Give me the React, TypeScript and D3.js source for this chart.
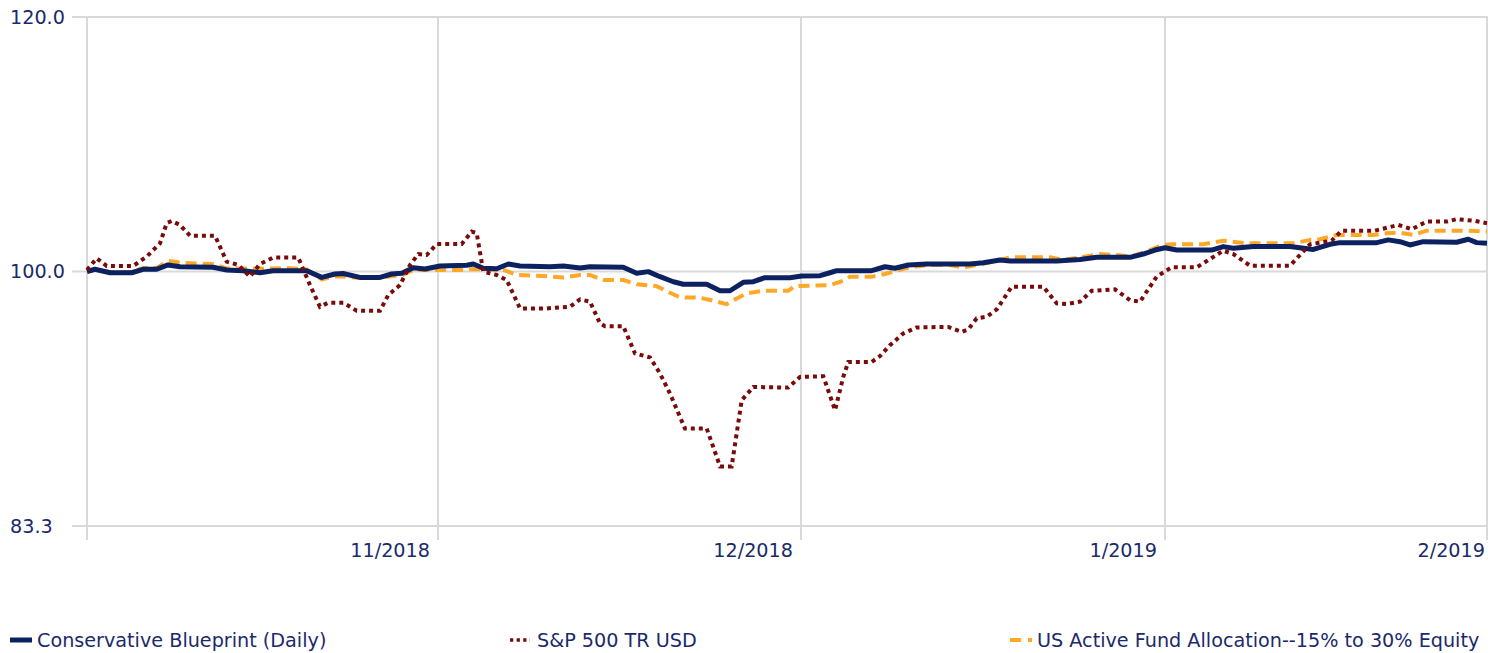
import React from 'react';
import * as d3 from 'd3';

// x values are days counted from 2 Oct 2018
const monthDays = [0, 30, 60, 91, 122];
const tickDays = [30, 60, 91, 122];
const tickLabels = ['11/2018', '12/2018', '1/2019', '2/2019'];
const yTicks = [100 / 1.2, 100, 120];

const seriesNames = [
  'Conservative Blueprint (Daily)',
  'S&P 500 TR USD',
  'US Active Fund Allocation--15% to 30% Equity',
];

const blueprint: [number, number][] = [
  [0, 99.99], [0.68, 100.16], [1.97, 99.91], [3.82, 99.91], [4.79, 100.16], [5.96, 100.16],
  [6.92, 100.47], [7.95, 100.34], [10.77, 100.3], [11.94, 100.11], [13.33, 100.06], [14.79, 99.91],
  [15.9, 100.06], [18.78, 100.06], [20.06, 99.58], [21.2, 99.82], [21.88, 99.86], [23.33, 99.58],
  [25.04, 99.58], [26.04, 99.82], [26.9, 99.87], [27.89, 100.27], [28.89, 100.18], [30.17, 100.4],
  [32.37, 100.45], [32.92, 100.54], [33.74, 100.23], [34.85, 100.2], [35.81, 100.54], [36.78, 100.4],
  [39.26, 100.34], [40.36, 100.4], [41.74, 100.25], [42.56, 100.34], [45.31, 100.3], [46.42, 99.87],
  [47.38, 99.99], [48.35, 99.63], [49.45, 99.27], [50.27, 99.09], [52.21, 99.09], [53.31, 98.63],
  [54.13, 98.63], [55.23, 99.23], [56.06, 99.27], [57.02, 99.56], [59.09, 99.56], [60.06, 99.68],
  [61.62, 99.7], [62.47, 99.91], [63.04, 100.06], [66.02, 100.06], [67.15, 100.34], [68.01, 100.23],
  [69.14, 100.47], [70.71, 100.54], [74.39, 100.54], [75.53, 100.63], [76.95, 100.83], [77.8, 100.76],
  [81.78, 100.76], [83.76, 100.86], [85.18, 101.02], [88.02, 101.02], [89.15, 101.26], [90.15, 101.55],
  [91.0, 101.72], [92.11, 101.55], [95.41, 101.55], [96.51, 101.8], [97.46, 101.68], [99.35, 101.8],
  [102.81, 101.8], [105.02, 101.59], [106.59, 101.97], [107.54, 102.09], [111.01, 102.09], [112.1, 102.29],
  [113.21, 102.16], [114.15, 101.92], [115.41, 102.16], [118.57, 102.12], [119.66, 102.34], [120.46, 102.09],
  [121.43, 102.04],
];

const sp500: [number, number][] = [
  [0, 100.11], [0.83, 100.95], [1.68, 100.4], [3.96, 100.4], [5.1, 101.07], [6.24, 102.04],
  [6.81, 103.52], [7.24, 103.69], [7.95, 103.39], [8.8, 102.6], [10.94, 102.6], [11.94, 100.71],
  [12.93, 100.47], [13.93, 99.63], [14.79, 100.54], [15.92, 101.0], [18.06, 101.0], [19.06, 99.03],
  [19.91, 97.51], [20.62, 97.79], [21.91, 97.79], [23.05, 97.23], [25.04, 97.23], [25.75, 98.33],
  [26.75, 99.03], [27.61, 100.47], [28.32, 101.26], [29.03, 101.19], [29.89, 101.99], [31.96, 101.99],
  [32.79, 102.9], [33.2, 102.78], [33.74, 99.99], [34.85, 99.75], [35.68, 99.39], [36.78, 97.39],
  [38.98, 97.39], [40.91, 97.51], [41.74, 98.02], [42.56, 97.86], [43.39, 96.35], [43.8, 96.16],
  [45.31, 96.16], [46.28, 94.3], [47.52, 94.03], [48.35, 92.95], [49.17, 91.63], [50.41, 89.36],
  [52.21, 89.36], [53.31, 86.97], [54.27, 86.97], [55.1, 91.19], [56.06, 92.06], [58.95, 92.02],
  [59.92, 92.73], [61.9, 92.77], [62.9, 90.54], [63.6, 92.73], [64.03, 93.73], [66.02, 93.73],
  [66.73, 94.12], [67.58, 94.86], [68.71, 95.66], [69.85, 96.07], [72.54, 96.11], [73.69, 95.77],
  [74.25, 95.94], [74.96, 96.7], [75.81, 96.81], [76.67, 97.32], [77.94, 98.91], [80.64, 98.91],
  [81.78, 97.74], [82.63, 97.69], [83.76, 97.86], [84.76, 98.63], [86.74, 98.73], [88.02, 97.97],
  [88.87, 97.86], [90.29, 99.63], [91.63, 100.3], [94.0, 100.3], [96.51, 101.5], [97.46, 101.26],
  [99.03, 100.42], [102.81, 100.42], [104.7, 101.97], [106.75, 102.23], [107.7, 102.97], [110.85, 102.97],
  [113.05, 103.39], [114.32, 103.08], [115.73, 103.64], [117.62, 103.64], [118.57, 103.82], [120.14, 103.71],
  [121.43, 103.52],
];

const activeFund: [number, number][] = [
  [0, 100.0], [0.68, 100.14], [1.97, 99.96], [3.82, 99.96], [4.79, 100.25], [5.96, 100.25],
  [6.92, 100.76], [8.21, 100.61], [10.77, 100.54], [11.94, 100.22], [15.38, 100.2], [17.09, 100.25],
  [18.78, 100.14], [20.06, 99.44], [21.2, 99.64], [21.88, 99.64], [23.33, 99.53], [25.04, 99.53],
  [26.04, 99.68], [26.9, 99.71], [27.89, 100.11], [30.17, 100.11], [32.37, 100.11], [32.92, 100.18],
  [35.4, 100.11], [36.5, 99.75], [38.7, 99.68], [40.36, 99.58], [41.74, 99.75], [42.56, 99.75],
  [43.66, 99.39], [45.31, 99.39], [46.42, 99.09], [48.07, 98.96], [49.17, 98.49], [50.0, 98.17],
  [51.65, 98.14], [52.75, 97.93], [53.86, 97.69], [54.69, 98.09], [55.51, 98.45], [56.89, 98.63],
  [58.95, 98.63], [59.5, 98.96], [62.47, 99.03], [63.6, 99.34], [64.17, 99.63], [66.02, 99.63],
  [67.15, 99.82], [68.14, 100.06], [69.28, 100.3], [70.98, 100.47], [72.68, 100.47], [73.82, 100.27],
  [74.96, 100.47], [76.67, 100.76], [77.8, 101.02], [81.21, 101.02], [82.34, 100.83], [83.76, 101.02],
  [85.46, 101.26], [87.16, 101.17], [88.02, 101.08], [89.15, 101.36], [90.86, 101.92], [91.78, 101.97],
  [94.62, 101.97], [96.51, 102.23], [97.78, 102.12], [98.72, 102.04], [103.13, 102.04], [104.7, 102.29],
  [105.65, 102.34], [107.23, 102.65], [110.69, 102.65], [111.95, 102.78], [113.21, 102.82], [114.47, 102.65],
  [115.73, 102.97], [119.51, 102.97], [121.43, 102.9],
];

const navy = '#0c2160';
const maroon = '#7a0b0b';
const orange = '#ffa726';
const textColor = '#1b2a6b';
const gridColor = '#d9d9d9';
const font = '"DejaVu Sans", Verdana, sans-serif';
const fontSize = 19.2;

const W = 1488;
const H = 653;
const plot = { left: 87, right: 1487, top: 17, bottom: 526 };

export default function App() {
  const x = d3.scaleLinear().domain(monthDays).range([87, 438, 801, 1165, 1493]);
  const y = d3.scaleLog().domain([100 / 1.2, 120]).range([plot.bottom, plot.top]);
  const line = d3.line<[number, number]>().x(d => x(d[0])).y(d => y(d[1]));
  const fmt = d3.format('.1f');

  const legendX = [10, 510, 1010];
  const legendY = 640;

  return (
    <svg width={W} height={H} style={{ position: 'absolute', left: 0, top: 0, background: '#fff' }}>
      {/* grid */}
      {yTicks.map((t, i) => (
        <line key={'h' + i} x1={72} x2={W} y1={y(t)} y2={y(t)} stroke={gridColor} strokeWidth={2} />
      ))}
      {[0, ...tickDays.slice(0, 3)].map((d, i) => (
        <line key={'v' + i} x1={x(d)} x2={x(d)} y1={plot.top} y2={540} stroke={gridColor} strokeWidth={2} />
      ))}
      <line x1={plot.right} x2={plot.right} y1={plot.top} y2={540} stroke={gridColor} strokeWidth={2} />

      {/* axis labels */}
      {yTicks.map((t, i) => (
        <text key={'yl' + i} x={10} y={y(t)} dy="0.36em" fontFamily={font} fontSize={fontSize} fill={textColor}>
          {fmt(t)}
        </text>
      ))}
      {tickDays.map((d, i) => (
        <text key={'xl' + i} x={x(d) - 8} y={557} textAnchor="end" fontFamily={font} fontSize={fontSize} fill={textColor}>
          {tickLabels[i]}
        </text>
      ))}

      {/* series */}
      <path d={line(activeFund) || ''} fill="none" stroke={orange} strokeWidth={4} strokeDasharray="11 6" />
      <path d={line(blueprint) || ''} fill="none" stroke={navy} strokeWidth={5} strokeLinejoin="round" />
      <path d={line(sp500) || ''} fill="none" stroke={maroon} strokeWidth={4} strokeDasharray="4 4" />

      {/* legend */}
      <line x1={legendX[0]} x2={legendX[0] + 22} y1={legendY} y2={legendY} stroke={navy} strokeWidth={5} />
      <line x1={legendX[1]} x2={legendX[1] + 20} y1={legendY} y2={legendY} stroke={maroon} strokeWidth={3.5} strokeDasharray="3.3 3.3" />
      <line x1={legendX[2]} x2={legendX[2] + 22} y1={legendY} y2={legendY} stroke={orange} strokeWidth={4} strokeDasharray="11 7" />
      {seriesNames.map((n, i) => (
        <text key={'lg' + i} x={legendX[i] + 27} y={legendY} dy="0.36em" fontFamily={font} fontSize={fontSize} fill={textColor}>
          {n}
        </text>
      ))}
    </svg>
  );
}
